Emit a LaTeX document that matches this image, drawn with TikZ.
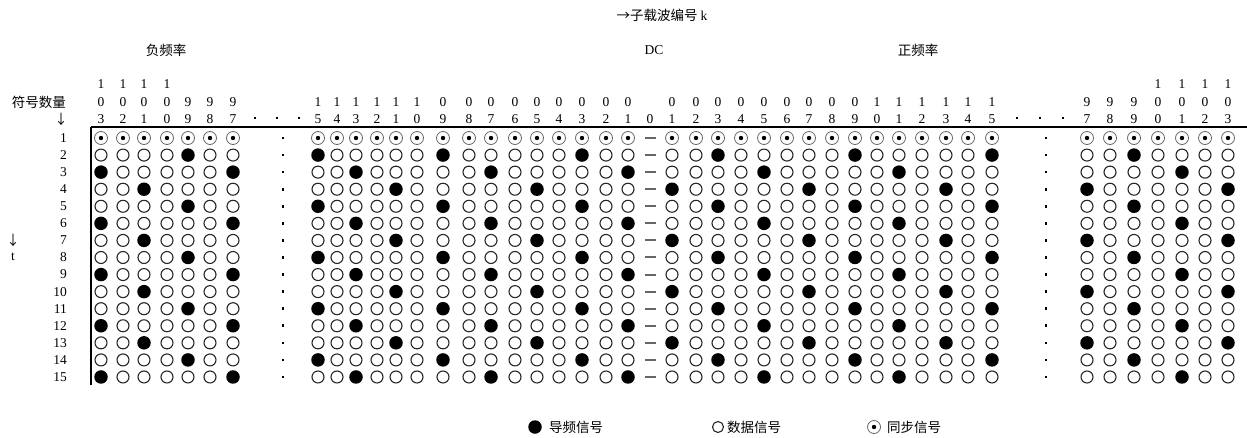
\documentclass[tikz,border=0pt]{standalone}
\usepackage{fontspec}
\setmainfont{Liberation Serif}
\newfontfamily\cjk{Noto Sans CJK SC}
\begin{document}
\begin{tikzpicture}[x=1pt,y=-1pt,
  txt/.style={inner sep=0pt, font=\fontsize{13.5}{15}\selectfont},
  cjktxt/.style={inner sep=0pt, font=\fontsize{13.5}{15}\selectfont\cjk},
  datasym/.style={circle, draw=black!85, line width=1.1pt, minimum size=12pt, inner sep=0pt},
  pilotsym/.style={circle, fill=black, minimum size=13.5pt, inner sep=0pt},
  syncsym/.style={circle, draw=black!60, line width=0.8pt, minimum size=13pt, inner sep=0pt,
     path picture={\fill[black] (path picture bounding box.center) circle (2.2pt);}},
  dcdash/.style={rectangle, fill=black!60, minimum width=11pt, minimum height=2pt, inner sep=0pt},
  gapdot/.style={rectangle, fill=black, minimum size=2.6pt, inner sep=0pt},
  axisline/.style={line width=1.4pt}
]
\useasboundingbox (0,0) rectangle (1247,437);

% top labels
\node[cjktxt] (title) at (662,15) {→子载波编号 \rmfamily k};
\node[txt] (dc) at (654,50) {DC};
\node[cjktxt] (neg) at (166,50) {负频率};
\node[cjktxt] (pos) at (918,50) {正频率};

% left labels
\node[cjktxt, anchor=east] (symcount) at (66,102) {符号数量};
\node[cjktxt] (downarr) at (61,119) {↓};
\node[cjktxt] (tarr) at (13,240) {↓};
\node[txt] (tlabel) at (13,257) {t};

% axes
\coordinate (hl) at (91,127);
\coordinate (hr) at (1247,127);
\coordinate (vb) at (91,385);
\draw[axisline] (hl) -- (hr);
\draw[axisline] (hl) -- (vb);

% row numbers and gap dots
\foreach \r in {1,...,15} {
  \pgfmathsetmacro\y{138+(\r-1)*17.07}
  \node[txt, anchor=east] (rn-\r) at (67,\y) {\r};
  \node[gapdot] (gl-\r) at (283,\y) {};
  \node[gapdot] (gr-\r) at (1046,\y) {};
}

% header gap dots
\foreach \x [count=\i] in {255,277,299} { \node[gapdot] (hdl-\i) at (\x,118) {}; }
\foreach \x [count=\i] in {1017,1040,1063} { \node[gapdot] (hdr-\i) at (\x,118) {}; }

% DC column
\node[txt] (h-dc) at (650,119) {0};
\foreach \r in {1,...,15} {
  \pgfmathsetmacro\y{138+(\r-1)*17.07}
  \node[dcdash] (c-\r-dc) at (650,\y) {};
}

% subcarrier columns
\foreach \k/\x in {-103/101,-102/123,-101/144,-100/167,-99/188,-98/210,-97/233,
  -15/318,-14/337,-13/356,-12/377,-11/396,-10/417,-9/443,-8/469,-7/491,-6/515,-5/537,-4/559,-3/582,-2/606,-1/628,
  1/672,2/696,3/718,4/741,5/764,6/787,7/809,8/832,9/855,10/877,11/899,12/922,13/946,14/968,15/992,
  97/1087,98/1110,99/1134,100/1158,101/1182,102/1205,103/1228} {
  \pgfmathtruncatemacro\a{abs(\k)}
  \pgfmathtruncatemacro\hd{int(\a/100)}
  \pgfmathtruncatemacro\td{mod(int(\a/10),10)}
  \pgfmathtruncatemacro\od{mod(\a,10)}
  \pgfmathtruncatemacro\km{mod(\k+108,6)}
  \ifnum\a>99 \node[txt] (hh\k) at (\x,84) {\hd}; \fi
  \node[txt] (ht\k) at (\x,102) {\td};
  \node[txt] (ho\k) at (\x,119) {\od};
  \foreach \r in {1,...,15} {
    \pgfmathsetmacro\y{138+(\r-1)*17.07}
    \pgfmathtruncatemacro\res{mod(3+2*(\r-2),6)}
    \ifnum\r=1
      \node[syncsym] (c-\r-\k) at (\x,\y) {};
    \else
      \ifnum\res=\km
        \node[pilotsym] (c-\r-\k) at (\x,\y) {};
      \else
        \node[datasym] (c-\r-\k) at (\x,\y) {};
      \fi
    \fi
  }
}

% legend
\node[pilotsym] (lg-p) at (535,427) {};
\node[cjktxt, anchor=west] (lg-pt) at (549,427) {导频信号};
\node[datasym, minimum size=11pt] (lg-d) at (718,427) {};
\node[cjktxt, anchor=west] (lg-dt) at (727,427) {数据信号};
\node[syncsym] (lg-s) at (874,427) {};
\node[cjktxt, anchor=west] (lg-st) at (887,427) {同步信号};
\end{tikzpicture}
\end{document}
